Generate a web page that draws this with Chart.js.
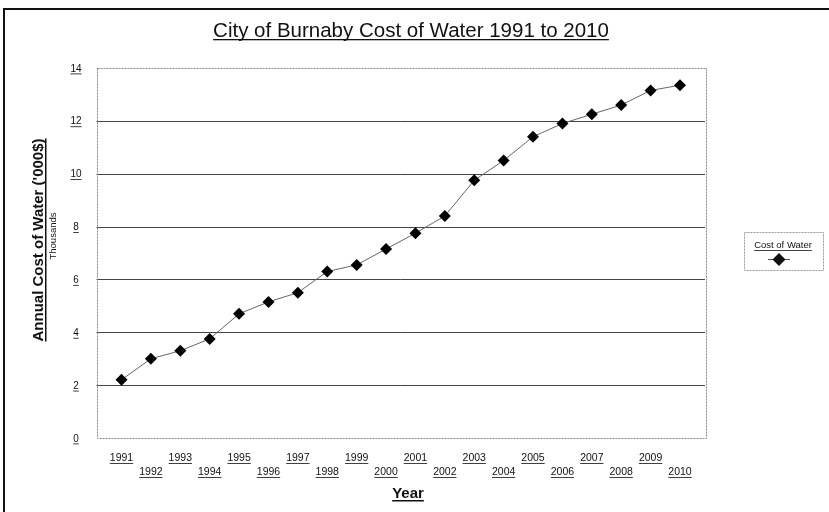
<!DOCTYPE html>
<html>
<head>
<meta charset="utf-8">
<script src="https://cdn.jsdelivr.net/npm/chart.js@4.4.1/dist/chart.umd.min.js"></script>
<style>
  html, body { margin: 0; padding: 0; background: #fff; }
  #wrap { width: 829px; height: 512px; position: relative; }
</style>
</head>
<body>
<div id="wrap"><canvas id="waterChart" width="829" height="512"></canvas></div>
<script>
// Data
const years = ['1991', '1992', '1993', '1994', '1995', '1996', '1997', '1998', '1999', '2000',
               '2001', '2002', '2003', '2004', '2005', '2006', '2007', '2008', '2009', '2010'];
const costOfWater = [2.2, 3.0, 3.3, 3.75, 4.7, 5.15, 5.5, 6.3, 6.55, 7.15,
                     7.75, 8.4, 9.75, 10.5, 11.4, 11.9, 12.25, 12.6, 13.15, 13.35];
const yTicks = [0, 2, 4, 6, 8, 10, 12, 14];

const FONT = '"Liberation Sans", Arial, sans-serif';
const SIDE = 25; // gap between plot frame and first/last point

// draw text with an underline
function underlined(ctx, text, x, y, font, align, lw) {
    ctx.font = font;
    ctx.textAlign = align;
    ctx.textBaseline = 'alphabetic';
    ctx.fillText(text, x, y);
    const w = ctx.measureText(text).width;
    let x0 = x;
    if (align === 'center') x0 = x - w / 2;
    else if (align === 'right') x0 = x - w;
    ctx.fillRect(x0, y + 2, w, lw || 1);
}

const decorations = {
    id: 'decorations',
    beforeDatasetsDraw(chart) {
        const ctx = chart.ctx;
        const area = chart.chartArea;
        const ys = chart.scales.y;
        const left = area.left - SIDE, right = area.right + SIDE;
        ctx.save();
        // outer frame
        ctx.strokeStyle = '#111';
        ctx.lineWidth = 2;
        ctx.beginPath();
        ctx.moveTo(4, 512);
        ctx.lineTo(4, 9);
        ctx.lineTo(829, 9);
        ctx.stroke();

        // horizontal grid lines
        ctx.strokeStyle = '#444';
        ctx.lineWidth = 1;
        yTicks.forEach(v => {
            if (v === 0 || v === yTicks[yTicks.length - 1]) return;
            const py = Math.round(ys.getPixelForValue(v)) + 0.5;
            ctx.beginPath();
            ctx.moveTo(left, py);
            ctx.lineTo(right, py);
            ctx.stroke();
        });

        // plot frame (dotted)
        ctx.strokeStyle = '#888';
        ctx.setLineDash([2, 1]);
        ctx.strokeRect(Math.round(left) + 0.5, Math.round(area.top) + 0.5,
                       Math.round(right - left), Math.round(area.bottom - area.top));
        ctx.setLineDash([]);
        ctx.restore();
    },
    afterDatasetsDraw(chart) {
        const ctx = chart.ctx;
        const xs = chart.scales.x;
        const ys = chart.scales.y;
        ctx.save();
        ctx.fillStyle = '#111';

        // title
        underlined(ctx, 'City of Burnaby Cost of Water 1991 to 2010', 411, 37, '20.5px ' + FONT, 'center', 1.3);

        // y tick labels
        yTicks.forEach(v => {
            underlined(ctx, String(v), 76, ys.getPixelForValue(v) + 3.5, '10px ' + FONT, 'center', 0.8);
        });

        // x tick labels, staggered
        years.forEach((yr, i) => {
            const px = xs.getPixelForTick(i);
            const py = i % 2 === 0 ? 461 : 475;
            underlined(ctx, yr, px, py, '10.5px ' + FONT, 'center', 0.8);
        });

        // axis titles
        underlined(ctx, 'Year', 408, 498, 'bold 15px ' + FONT, 'center', 1.5);
        ctx.save();
        ctx.translate(43, 240);
        ctx.rotate(-Math.PI / 2);
        underlined(ctx, "Annual Cost of Water ('000$)", 0, 0, 'bold 15px ' + FONT, 'center', 1.5);
        ctx.restore();
        ctx.save();
        ctx.translate(56, 236);
        ctx.rotate(-Math.PI / 2);
        ctx.font = '9.5px ' + FONT;
        ctx.textAlign = 'center';
        ctx.fillText('Thousands', 0, 0);
        ctx.restore();

        // legend box
        ctx.strokeStyle = '#999';
        ctx.lineWidth = 1;
        ctx.setLineDash([2, 1]);
        ctx.strokeRect(744.5, 232.5, 79, 38);
        ctx.setLineDash([]);
        underlined(ctx, chart.data.datasets[0].label, 783, 248, '9.5px ' + FONT, 'center', 0.8);
        ctx.strokeStyle = '#555';
        ctx.beginPath();
        ctx.moveTo(768, 259.5);
        ctx.lineTo(790, 259.5);
        ctx.stroke();
        ctx.beginPath();
        ctx.moveTo(779, 253);
        ctx.lineTo(785.5, 259.5);
        ctx.lineTo(779, 266);
        ctx.lineTo(772.5, 259.5);
        ctx.closePath();
        ctx.fill();

        ctx.restore();
    }
};

new Chart(document.getElementById('waterChart').getContext('2d'), {
    type: 'line',
    data: {
        labels: years,
        datasets: [{
            label: 'Cost of Water',
            data: costOfWater,
            borderColor: '#666',
            borderWidth: 1,
            backgroundColor: '#000',
            pointStyle: 'rectRot',
            pointRadius: 6,
            pointBackgroundColor: '#000',
            pointBorderColor: '#000',
            pointBorderWidth: 0,
            tension: 0
        }]
    },
    options: {
        responsive: false,
        animation: false,
        layout: { padding: { left: 121.5, top: 68, right: 149, bottom: 74 } },
        scales: {
            x: {
                offset: false,
                grid: { display: false, drawTicks: false },
                border: { display: false },
                ticks: { display: false }
            },
            y: {
                min: 0,
                max: 14,
                ticks: { display: false, stepSize: 2 },
                border: { display: false },
                grid: { display: false, drawTicks: false }
            }
        },
        plugins: {
            legend: { display: false },
            tooltip: { enabled: false }
        }
    },
    plugins: [decorations]
});
</script>
</body>
</html>
